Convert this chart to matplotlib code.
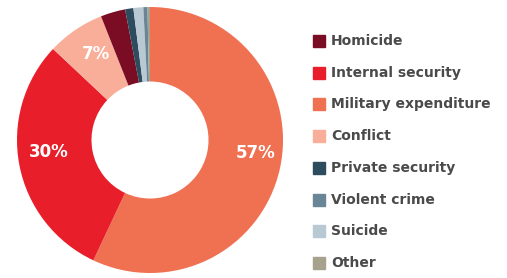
import matplotlib
matplotlib.use("Agg")
import numpy as np
import matplotlib.pyplot as plt
from matplotlib.patches import Rectangle

# slices in drawing order (clockwise from 12 o'clock)
slice_names = ["Military expenditure", "Internal security", "Conflict", "Homicide",
               "Private security", "Suicide", "Violent crime", "Other"]
slice_values = [57, 30, 7, 3.0, 1.0, 1.2, 0.5, 0.3]
slice_labels = ["57%", "30%", "7%", "", "", "", "", ""]

legend_names = ["Homicide", "Internal security", "Military expenditure", "Conflict",
                "Private security", "Violent crime", "Suicide", "Other"]

colors = {
    "Homicide": "#7a0c24",
    "Internal security": "#e81f2a",
    "Military expenditure": "#f07152",
    "Conflict": "#f8ae98",
    "Private security": "#2d4c5d",
    "Violent crime": "#6a8596",
    "Suicide": "#b8c9d4",
    "Other": "#a6a28d",
}

# label placement (radius, angle in deg) - big ones pulled toward horizontal
label_pos = {"57%": (0.80, -7), "30%": (0.77, 187), "7%": (0.76, 122)}

W, H = 507, 278
fig = plt.figure(figsize=(W / 100, H / 100), dpi=100)

cx, cy, r = 150, 140, 133
ax = fig.add_axes([(cx - r) / W, (H - cy - r) / H, 2 * r / W, 2 * r / H])
ax.set_aspect("equal")

wedges, _ = ax.pie(slice_values, colors=[colors[n] for n in slice_names],
                   startangle=90, counterclock=False,
                   wedgeprops=dict(width=0.56, linewidth=0))
for lab in slice_labels:
    if not lab:
        continue
    d, a = label_pos[lab]
    ax.text(d * np.cos(np.radians(a)), d * np.sin(np.radians(a)), lab,
            color="white", fontsize=12, fontweight="bold", family="DejaVu Sans",
            ha="center", va="center")
ax.set_xlim(-1, 1)
ax.set_ylim(-1, 1)
ax.axis("off")

# legend drawn by hand
y0, dy = 41, 31.7
for i, name in enumerate(legend_names):
    y = y0 + i * dy
    fig.patches.append(Rectangle((313 / W, 1 - (y + 6) / H), 12 / W, 12 / H,
                                 transform=fig.transFigure, color=colors[name]))
    fig.text(331 / W, 1 - y / H, name, ha="left", va="center", fontsize=10,
             fontweight="bold", family="DejaVu Sans", color="#4a4a4a")

fig.savefig("out.png", dpi=100)
